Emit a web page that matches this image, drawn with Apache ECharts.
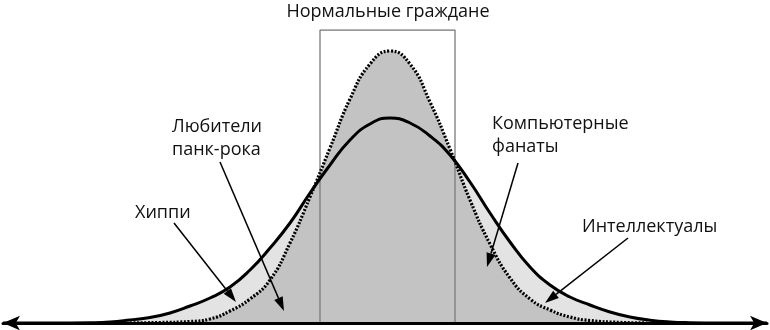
<!DOCTYPE html>
<html><head><meta charset="utf-8">
<script src="https://cdn.jsdelivr.net/npm/echarts@6/dist/echarts.min.js"></script>
<style>html,body{margin:0;padding:0;background:#fff}#c{width:770px;height:330px}</style>
</head><body><div id="c"></div>
<script>
// Wide distribution (solid line): x position, height above baseline
var solidX = [3, 50, 90, 110, 130, 150, 170, 190, 210, 230, 250, 270, 290, 310, 330, 350, 370, 390, 410, 430, 450, 470, 490, 510, 530, 550, 570, 590, 610, 630, 650, 670, 690, 720, 767];
var solidY = [0, 0, 0.3, 1, 3, 5.5, 10, 17, 25, 36, 53, 75, 100, 130, 158, 183, 199, 205, 200, 187, 168, 141, 110, 81, 56, 38, 26, 18, 11, 6, 2.8, 1, 0.3, 0, 0];
// Narrow distribution (dotted line)
var dottedX = [130, 160, 190, 210, 230, 250, 270, 290, 310, 330, 350, 370, 390, 410, 430, 450, 470, 490, 510, 530, 550, 570, 590, 620, 650];
var dottedY = [0, 0.5, 1.5, 4, 12, 24, 43, 80, 126, 175, 224, 259, 272, 259, 221, 174, 123, 79, 45, 24, 13, 6, 2.5, 0.6, 0];
// "Normal citizens" box
var boxX = [320, 320, 455, 455];
var boxY = [0, 293, 293, 0];
var boxTitle = 'Нормальные граждане';
// Annotations: label lines, arrow start, arrow tip
var noteLabels = [['Хиппи'], ['Любители', 'панк-рока'], ['Компьютерные', 'фанаты'], ['Интеллектуалы']];
var arrowFrom = [[174, 100], [220, 161], [518, 160], [628, 85]];
var arrowTo = [[236, 21], [284, 12], [487, 56], [545, 20]];

function pairs(xs, ys) { return xs.map(function (x, i) { return [x, ys[i]]; }); }

var chart = echarts.init(document.getElementById('c'));
var FONT = 'Open Sans';
var txt = {fontFamily: FONT, fontSize: 18, fill: '#111'};
function label(text, x, y, align) {
  return {type: 'text', x: x, y: y, style: Object.assign({text: text, textAlign: align || 'left', textVerticalAlign: 'middle'}, txt)};
}
function renderArrow(params, api) {
  var p1 = api.coord([api.value(0), api.value(1)]);
  var p2 = api.coord([api.value(2), api.value(3)]);
  var dx = p2[0] - p1[0], dy = p2[1] - p1[1];
  var len = Math.sqrt(dx * dx + dy * dy);
  var ux = dx / len, uy = dy / len;
  var headLen = 14, headW = 4.6;
  var bx = p2[0] - ux * headLen, by = p2[1] - uy * headLen;
  return {type: 'group', children: [
    {type: 'line', shape: {x1: p1[0], y1: p1[1], x2: bx, y2: by}, style: {stroke: '#000', lineWidth: 1.5}},
    {type: 'polygon', shape: {points: [[p2[0], p2[1]], [bx - uy * headW, by + ux * headW], [bx + uy * headW, by - ux * headW]]}, style: {fill: '#000'}}
  ]};
}
chart.setOption({
  animation: false,
  grid: {left: 3, right: 3, top: 30, bottom: 7},
  xAxis: {type: 'value', min: 3, max: 767, z: 10,
    axisLine: {show: true, symbol: ['arrow', 'arrow'], symbolSize: [11, 17], lineStyle: {color: '#000', width: 3}},
    axisTick: {show: false}, axisLabel: {show: false}, splitLine: {show: false}},
  yAxis: {type: 'value', min: 0, max: 293, show: false, splitLine: {show: false}},
  series: [
    {type: 'line', data: pairs(solidX, solidY), smooth: 0.5, symbol: 'none',
      lineStyle: {width: 0, opacity: 0}, areaStyle: {color: '#e3e3e3', opacity: 1}},
    {type: 'line', data: pairs(dottedX, dottedY), smooth: 0.5, symbol: 'none',
      lineStyle: {width: 0, opacity: 0}, areaStyle: {color: '#c3c3c3', opacity: 1}},
    {type: 'line', data: pairs(boxX, boxY), symbol: 'none', lineStyle: {color: '#7a7a7a', width: 1.3}},
    {type: 'line', data: pairs(dottedX, dottedY), smooth: 0.5, symbol: 'none',
      lineStyle: {color: '#000', width: 3.2, type: [2, 1.6]}},
    {type: 'line', data: pairs(solidX, solidY), smooth: 0.5, symbol: 'none',
      lineStyle: {color: '#000', width: 3}},
    {type: 'custom', renderItem: renderArrow, silent: true, z: 5,
      data: arrowFrom.map(function (f, i) { return [f[0], f[1], arrowTo[i][0], arrowTo[i][1]]; })}
  ],
  graphic: [
    label(boxTitle, 388, 12, 'center'),
    label(noteLabels[0][0], 135, 213),
    label(noteLabels[1][0], 172, 127),
    label(noteLabels[1][1], 172, 150),
    label(noteLabels[2][0], 492, 124),
    label(noteLabels[2][1], 492, 147),
    label(noteLabels[3][0], 582, 227)
  ]
});
</script></body></html>
